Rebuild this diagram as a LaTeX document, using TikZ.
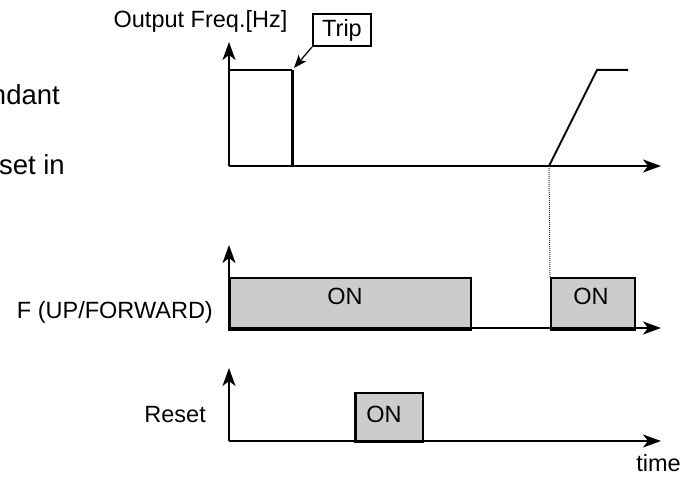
\documentclass[tikz,border=0pt]{standalone}
\usepackage{fontspec}
\setmainfont{Liberation Sans}
\usetikzlibrary{arrows.meta}
\definecolor{boxgray}{HTML}{CCCCCC}
\begin{document}
\begin{tikzpicture}[x=1pt,y=-1pt,
  lbl/.style={font=\fontsize{23.5}{28}\selectfont, inner sep=0pt},
  biglbl/.style={font=\fontsize{27.5}{32}\selectfont, inner sep=0pt},
  axisline/.style={line width=2pt, -{Stealth[length=18pt,width=13pt,inset=5pt]}},
  sig/.style={line width=2pt},
  onbox/.style={draw, line width=2.2pt, fill=boxgray, inner sep=0pt, anchor=north west},
  tripbox/.style={draw, line width=2pt, minimum width=58pt, minimum height=32pt, inner sep=0pt, anchor=north west, font=\fontsize{23.5}{28}\selectfont}
]
\useasboundingbox (0,0) rectangle (688,478);

% fragments at left
\node[biglbl, anchor=base east] (t1) at (60,105) {ndant};
\node[biglbl, anchor=base east] (t2) at (65,175) {set in};

% ---------- top plot ----------
\coordinate (o1) at (229,166);
\coordinate (y1) at (229,42);
\coordinate (x1) at (661,166);
\coordinate (pa) at (229,70);
\coordinate (pb) at (292,70);
\coordinate (pc) at (292,166);
\coordinate (ra) at (549,166);
\coordinate (rb) at (597,70);
\coordinate (rc) at (628,70);

\node[lbl, anchor=base] (ofreq) at (200.5,28) {Output Freq.[Hz]};
\node[tripbox] (trip) at (312,13) {Trip};

\draw[axisline] (o1) -- (y1);
\draw[axisline] (o1) -- (x1);
\draw[sig] (pa) -- (pb);
\draw[line width=3pt] (pb) -- (pc);
\draw[sig, line join=miter] (ra) -- (rb) -- (rc);
\draw[line width=1.2pt, -{Stealth[length=13pt,width=10pt,inset=3pt]}] (trip.south west) -- ([xshift=2pt,yshift=2pt]pb);

% ---------- F plot ----------
\coordinate (o2) at (229,328);
\coordinate (y2) at (229,245);
\coordinate (x2) at (661,328);
\node[onbox, minimum width=241pt, minimum height=50pt] (f1) at (229,277) {};
\node[onbox, minimum width=84pt, minimum height=50pt] (f2) at (550,277) {};
\draw[axisline] (o2) -- (y2);
\draw[axisline] (o2) -- (x2);
\draw[line width=3pt] (f1.north west) -- (f1.south west) -- (f1.south east);
\draw[line width=3pt] (f2.south west) -- (f2.south east);
\node[lbl, anchor=base] (on1) at (345,305) {ON};
\node[lbl, anchor=base] (on2) at (591,305) {ON};
\node[lbl, anchor=base east] (flbl) at (213,319) {F (UP/FORWARD)};

\draw[densely dotted, line width=1pt, black!80] (ra) -- (f2.north west);

% ---------- Reset plot ----------
\coordinate (o3) at (229,441);
\coordinate (y3) at (229,368);
\coordinate (x3) at (661,441);
\node[onbox, minimum width=67pt, minimum height=49pt] (r1) at (355,392) {};
\draw[line width=3pt] (r1.north west) -- (r1.south west);
\draw[axisline] (o3) -- (y3);
\draw[axisline] (o3) -- (x3);
\node[lbl, anchor=base] (on3) at (384,422) {ON};
\node[lbl, anchor=base east] (rlbl) at (206,422) {Reset};
\node[lbl, anchor=base east] (tlbl) at (681,471) {time};
\end{tikzpicture}
\end{document}
